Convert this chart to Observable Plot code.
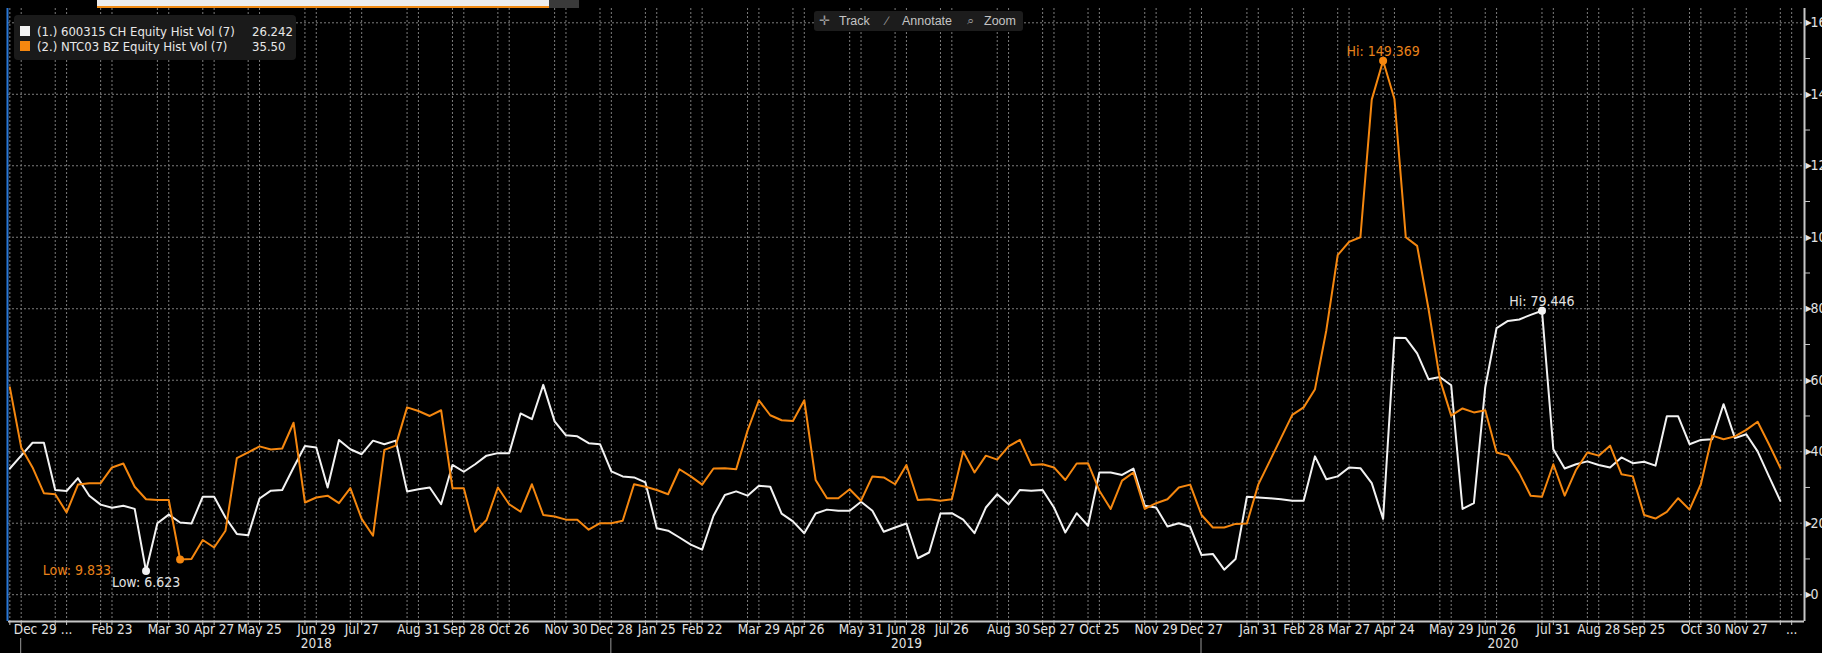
<!DOCTYPE html>
<html>
<head>
<meta charset="utf-8">
<script src="https://cdn.jsdelivr.net/npm/d3@7"></script>
<script src="https://cdn.jsdelivr.net/npm/@observablehq/plot@0.6"></script>
<style>
  html, body { margin: 0; padding: 0; background: #000; }
  #wrap { position: relative; width: 1822px; height: 653px; overflow: hidden; background: #000; }
  #wrap svg { display: block; }
  .narrow { font-family: "DejaVu Sans Condensed", "Liberation Sans Narrow", sans-serif; }
  #legend { position: absolute; left: 14px; top: 15px; width: 282px; height: 45px; background: #1a1a1a; border-radius: 4px; }
  .lrow { position: absolute; left: 0; height: 15px; line-height: 15px; font-size: 13px; color: #e8e8e8; white-space: pre; }
  .lsq { position: absolute; left: 6px; top: 2px; width: 10px; height: 10px; }
  .lname { position: absolute; left: 23px; top: 0; }
  .lval { position: absolute; left: 238px; top: 0; }
  #toolbar { position: absolute; left: 814px; top: 11px; width: 209px; height: 20px; background: #1c1c1c; border-radius: 3px;
             font-family: "Liberation Sans", Arial, sans-serif; font-size: 12.5px; color: #c4c4c4; line-height: 20px; white-space: pre; }
  #toolbar span { position: absolute; top: 0; }
  #topbar { position: absolute; left: 97px; top: 0; width: 452px; height: 6px; background: #ececec; border-bottom: 2px solid #f08a14; }
  #topgray { position: absolute; left: 549px; top: 0; width: 30px; height: 8px; background: #3a3a3a; }
</style>
</head>
<body>
<div id="wrap"></div>
<script>
// ---------- data ----------
const firstWeek = "2017-12-22"; // first weekly (Friday) observation

const whiteVol = [
  35.3, 38.9, 42.5, 42.5, 29.3, 29.0, 32.6, 27.7, 25.2, 24.3,
  24.9, 24.0, 6.623, 20.0, 22.4, 20.2, 19.9, 27.4, 27.4, 21.6,
  17.0, 16.6, 26.9, 29.1, 29.3, 35.6, 41.6, 41.2, 30.0, 43.3,
  40.7, 39.3, 43.1, 42.1, 43.1, 28.9, 29.5, 30.0, 25.3, 36.3,
  34.4, 36.5, 38.9, 39.6, 39.6, 50.7, 49.1, 58.7, 48.5, 44.6,
  44.3, 42.4, 42.1, 34.5, 33.1, 32.8, 31.4, 18.6, 17.9, 16.0,
  14.0, 12.6, 22.1, 27.9, 28.9, 27.7, 30.5, 30.2, 22.7, 20.5,
  17.2, 22.7, 23.8, 23.5, 23.5, 26.0, 23.5, 17.6, 18.8, 19.9,
  10.2, 11.8, 22.7, 22.8, 21.0, 17.2, 24.4, 28.1, 25.3, 29.3,
  29.1, 29.3, 24.4, 17.4, 22.8, 19.3, 34.2, 34.2, 33.5, 35.3,
  24.9, 24.4, 19.1, 20.0, 19.0, 11.1, 11.4, 7.0, 10.0, 27.4,
  27.2, 27.0, 26.7, 26.3, 26.3, 38.7, 32.3, 33.1, 35.6, 35.4,
  31.2, 21.2, 71.9, 71.8, 67.5, 60.3, 60.9, 58.6, 24.0, 25.6,
  58.0, 74.6, 76.6, 77.0, 78.3, 79.446, 40.7, 35.3, 36.5, 37.3,
  36.3, 35.6, 38.4, 36.8, 37.2, 36.1, 49.9, 49.9, 42.1, 43.3,
  43.5, 53.3, 43.8, 44.9, 40.1, 33.1, 26.242
];

const orangeVol = [
  58.0, 41.2, 35.6, 28.4, 28.1, 23.0, 30.8, 31.2, 31.2, 35.6,
  36.7, 30.2, 26.7, 26.5, 26.5, 9.833, 10.0, 15.3, 13.2, 17.9,
  38.2, 39.8, 41.5, 40.6, 40.9, 48.1, 25.8, 27.2, 27.7, 25.6,
  29.8, 21.2, 16.5, 40.5, 41.7, 52.4, 51.4, 50.0, 51.6, 29.8,
  29.8, 17.6, 20.9, 30.0, 25.3, 23.2, 30.9, 22.3, 21.9, 21.0,
  21.0, 18.2, 20.0, 20.0, 20.7, 30.9, 30.2, 29.3, 28.1, 35.1,
  33.1, 30.8, 35.3, 35.4, 35.1, 45.9, 54.4, 50.2, 48.8, 48.6,
  54.4, 32.1, 27.0, 27.0, 29.5, 26.3, 33.1, 32.8, 30.9, 36.3,
  26.5, 26.7, 26.3, 26.7, 40.1, 34.2, 38.9, 37.8, 41.5, 43.3,
  36.3, 36.5, 35.6, 32.1, 36.7, 36.8, 29.1, 24.0, 31.9, 34.2,
  24.0, 25.6, 26.7, 30.0, 30.8, 22.3, 18.8, 18.8, 19.8, 19.9,
  30.8, 37.3, 43.8, 50.3, 52.4, 57.5, 74.0, 95.0, 98.7, 100.0,
  138.5, 149.369, 138.7, 100.0, 97.6, 80.0, 60.3, 50.1, 52.1, 51.0,
  51.6, 39.8, 38.9, 34.0, 27.7, 27.4, 36.5, 27.7, 34.9, 39.8,
  38.9, 41.7, 33.7, 33.1, 22.3, 21.3, 23.2, 27.0, 23.8, 30.9,
  44.5, 43.5, 44.3, 46.1, 48.4, 42.1, 35.50
];

const seriesNames = ["(1.) 600315 CH Equity Hist Vol (7)", "(2.) NTC03 BZ Equity Hist Vol (7)"];
const seriesLast = ["26.242", "35.50"];
const seriesColors = ["#f2f2f2", "#f5870f"];

const tickDates = [
  "2017-12-29", "2018-01-26", "2018-02-23", "2018-03-30", "2018-04-27", "2018-05-25",
  "2018-06-29", "2018-07-27", "2018-08-31", "2018-09-28", "2018-10-26", "2018-11-30",
  "2018-12-28", "2019-01-25", "2019-02-22", "2019-03-29", "2019-04-26", "2019-05-31",
  "2019-06-28", "2019-07-26", "2019-08-30", "2019-09-27", "2019-10-25", "2019-11-29",
  "2019-12-27", "2020-01-31", "2020-02-28", "2020-03-27", "2020-04-24", "2020-05-29",
  "2020-06-26", "2020-07-31", "2020-08-28", "2020-09-25", "2020-10-30", "2020-11-27",
  "2020-12-25"
];
const tickLabels = [
  "Dec 29", "...", "Feb 23", "Mar 30", "Apr 27", "May 25",
  "Jun 29", "Jul 27", "Aug 31", "Sep 28", "Oct 26", "Nov 30",
  "Dec 28", "Jan 25", "Feb 22", "Mar 29", "Apr 26", "May 31",
  "Jun 28", "Jul 26", "Aug 30", "Sep 27", "Oct 25", "Nov 29",
  "Dec 27", "Jan 31", "Feb 28", "Mar 27", "Apr 24", "May 29",
  "Jun 26", "Jul 31", "Aug 28", "Sep 25", "Oct 30", "Nov 27",
  "..."
];
const yearLabels = ["2018", "2019", "2020"];
const yearStarts = ["2017-12-29", "2018-12-28", "2019-12-27"];
const yTicks = [0, 20, 40, 60, 80, 100, 120, 140, 160];
const yMinorTicks = [10, 30, 50, 70, 90, 110, 130, 150];

// ---------- build ----------
const parse = s => new Date(s + "T00:00:00Z");
const weeks = whiteVol.map((_, i) => d3.utcDay.offset(parse(firstWeek), 7 * i));
const white = whiteVol.map((v, i) => ({date: weeks[i], v}));
const orange = orangeVol.map((v, i) => ({date: weeks[i], v}));

const xDomain = [new Date("2017-12-21T04:00:00Z"), new Date("2021-01-01T22:00:00Z")];
const yDomain = [-7.5, 164];

const ticks = tickDates.map((d, i) => ({date: parse(d), label: tickLabels[i]}));
const gridDates = [];
ticks.forEach(t => { gridDates.push(t.date); gridDates.push(d3.utcDay.offset(t.date, -7)); });

const yearEnds = yearStarts.slice(1).map(parse).concat([xDomain[1]]);
const years = yearLabels.map((y, i) => ({
  label: y,
  date: new Date((+parse(yearStarts[i]) + +yearEnds[i]) / 2)
}));

const fmt = d3.format(".3f");
const wLow = d3.least(white, d => d.v), wHi = d3.greatest(white, d => d.v);
const oLow = d3.least(orange, d => d.v), oHi = d3.greatest(orange, d => d.v);
const extremes = [
  {...wLow, c: seriesColors[0]}, {...wHi, c: seriesColors[0]},
  {...oLow, c: seriesColors[1]}, {...oHi, c: seriesColors[1]}
];
const annColorO = "#e8821a";
const narrow = "'DejaVu Sans Condensed', 'Liberation Sans Narrow', sans-serif";
const gridColor = "#7c7c7c";
const axisColor = "#c6c6c6";
const textColor = "#e2e2e2";

const plot = Plot.plot({
  width: 1822,
  height: 653,
  marginLeft: 8,
  marginRight: 18,
  marginTop: 8,
  marginBottom: 32,
  style: {background: "#000", color: textColor, fontFamily: narrow, fontSize: "14px", overflow: "hidden"},
  x: {type: "utc", domain: xDomain, axis: null},
  y: {domain: yDomain, axis: null},
  marks: [
    Plot.ruleY(yTicks, {stroke: gridColor, strokeDasharray: "2,2", strokeWidth: 1}),
    Plot.ruleX(gridDates, {stroke: gridColor, strokeDasharray: "2,2", strokeWidth: 1}),
    Plot.line(white, {x: "date", y: "v", stroke: seriesColors[0], strokeWidth: 2}),
    Plot.line(orange, {x: "date", y: "v", stroke: seriesColors[1], strokeWidth: 2}),
    Plot.dot(extremes, {x: "date", y: "v", fill: "c", r: 4}),
    Plot.text([wLow], {x: "date", y: "v", text: d => "Low: " + fmt(d.v), fill: textColor, dy: 11, fontSize: 14}),
    Plot.text([oLow], {x: "date", y: "v", text: d => "Low: " + fmt(d.v), fill: annColorO, dy: 11, dx: -69, textAnchor: "end", fontSize: 14}),
    Plot.text([wHi], {x: "date", y: "v", text: d => "Hi: " + fmt(d.v), fill: textColor, dy: -9, fontSize: 14}),
    Plot.text([oHi], {x: "date", y: "v", text: d => "Hi: " + fmt(d.v), fill: annColorO, dy: -9, fontSize: 14}),
    // frame lines
    Plot.ruleY([yDomain[0]], {stroke: axisColor, strokeWidth: 2}),
    Plot.ruleX([xDomain[1]], {stroke: axisColor, strokeWidth: 2}),
    Plot.ruleX([xDomain[0]], {stroke: "#2a78d8", strokeWidth: 2, dx: -1}),
    // bottom axis ticks and labels
    Plot.axisX({ticks: gridDates, tickSize: 4, tickFormat: () => "", stroke: axisColor, label: null}),
    Plot.text(ticks.slice(0, 1), {x: "date", text: "label", frameAnchor: "bottom", dy: 12, dx: 14, fill: textColor, fontSize: 13.5}),
    Plot.text(ticks.slice(1), {x: "date", text: "label", frameAnchor: "bottom", dy: 12, fill: textColor, fontSize: 13.5}),
    Plot.text(years, {x: "date", text: "label", frameAnchor: "bottom", dy: 26, fill: textColor, fontSize: 13.5}),
    // right axis
    Plot.axisY({anchor: "right", ticks: yMinorTicks, tickSize: 5, tickFormat: () => "", stroke: axisColor, label: null}),
    Plot.text(yTicks, {y: d => d, text: () => "\u25B6", frameAnchor: "right", textAnchor: "start", dx: 1, fill: textColor, fontSize: 8, fontFamily: "DejaVu Sans"}),
    Plot.axisY({anchor: "right", ticks: yTicks, tickSize: 0, tickPadding: 6, fill: textColor, fontSize: 14, textAnchor: "start", label: null})
  ]
});

// year separators below the tick labels, positioned with the plot's x scale
const sx = plot.scale("x");
const sep = d3.select(plot).append("g").attr("stroke", "#9a9a9a").attr("stroke-width", 1);
yearStarts.forEach(d => {
  const px = sx.apply(parse(d));
  sep.append("line").attr("x1", px).attr("x2", px).attr("y1", 638).attr("y2", 653);
});

const wrap = document.getElementById("wrap");
wrap.appendChild(plot);

// top UI strip
const tb = document.createElement("div"); tb.id = "topbar"; wrap.appendChild(tb);
const tg = document.createElement("div"); tg.id = "topgray"; wrap.appendChild(tg);

// legend
const legend = document.createElement("div");
legend.id = "legend";
legend.className = "narrow";
seriesNames.forEach((name, i) => {
  const row = document.createElement("div");
  row.className = "lrow narrow";
  row.style.top = (9 + 15 * i) + "px";
  row.style.width = "282px";
  const sq = document.createElement("div"); sq.className = "lsq"; sq.style.background = seriesColors[i];
  const nm = document.createElement("span"); nm.className = "lname"; nm.textContent = name;
  const vl = document.createElement("span"); vl.className = "lval"; vl.textContent = seriesLast[i];
  row.appendChild(sq); row.appendChild(nm); row.appendChild(vl);
  legend.appendChild(row);
});
wrap.appendChild(legend);

// toolbar
const toolbar = document.createElement("div");
toolbar.id = "toolbar";
[["\u271B", 5], ["Track", 25], ["\u2215", 72], ["Annotate", 88], ["\u2315", 153], ["Zoom", 170]].forEach(([t, x]) => {
  const s = document.createElement("span"); s.textContent = t; s.style.left = x + "px";
  if (t.length === 1) s.style.color = "#9a9a9a";
  toolbar.appendChild(s);
});
wrap.appendChild(toolbar);
</script>
</body>
</html>
